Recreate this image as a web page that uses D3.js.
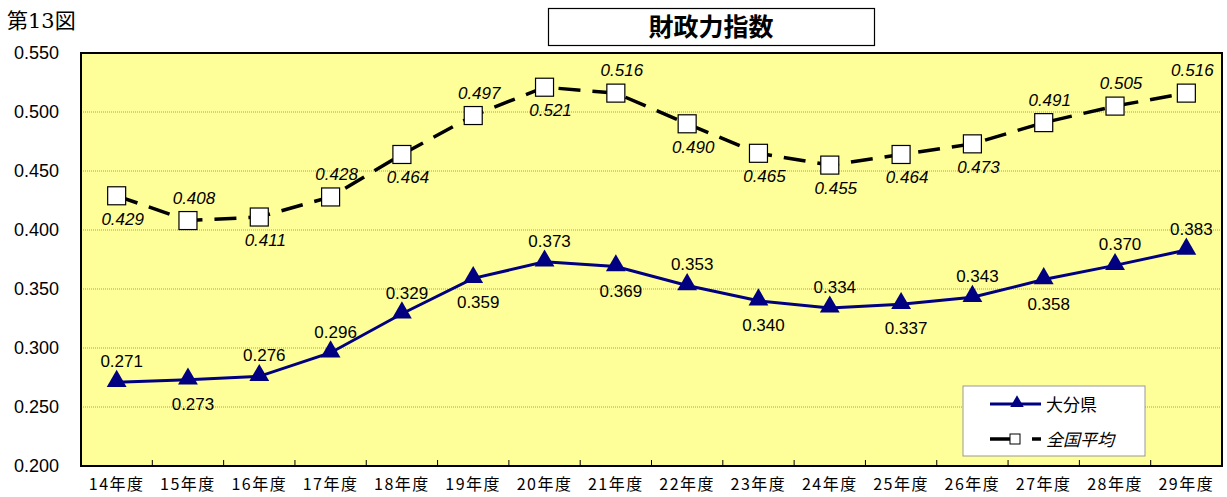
<!DOCTYPE html>
<html>
<head>
<meta charset="utf-8">
<script src="https://cdn.jsdelivr.net/npm/d3@7"></script>
<style>
  body { margin: 0; background: #fff; }
  text { font-family: "Liberation Sans", Arial, "Noto Sans CJK JP", sans-serif; }
</style>
</head>
<body>
<script>
let years = ['14年度', '15年度', '16年度', '17年度', '18年度', '19年度', '20年度', '21年度',
             '22年度', '23年度', '24年度', '25年度', '26年度', '27年度', '28年度', '29年度']
let oita = [0.271, 0.273, 0.276, 0.296, 0.329, 0.359, 0.373, 0.369,
            0.353, 0.340, 0.334, 0.337, 0.343, 0.358, 0.370, 0.383]
let national = [0.429, 0.408, 0.411, 0.428, 0.464, 0.497, 0.521, 0.516,
                0.490, 0.465, 0.455, 0.464, 0.473, 0.491, 0.505, 0.516]
// label side: 1 = above, -1 = below
let oitaSide = [1, -1, 1, 1, 1, -1, 1, -1, 1, -1, 1, -1, 1, -1, 1, 1]
let nationalSide = [-1, 1, -1, 1, -1, 1, -1, 1, -1, -1, -1, -1, -1, 1, 1, 1]
let yTicks = [0.200, 0.250, 0.300, 0.350, 0.400, 0.450, 0.500, 0.550]

let margin = { top: 53, bottom: 31, left: 81, right: 5 }
let width = 1227 - margin.left - margin.right
let height = 497 - margin.top - margin.bottom

let svg = d3.select('body')
    .append('svg')
    .attr('width', 1227)
    .attr('height', 497)

svg.append('text')
    .attr('x', 7)
    .attr('y', 28)
    .attr('font-size', 21)
    .style('font-family', '"DejaVu Serif", "Noto Sans CJK JP", serif')
    .text('第13図')

// title box
svg.append('rect')
    .attr('x', 548.5).attr('y', 8.5)
    .attr('width', 326).attr('height', 37)
    .attr('fill', 'white').attr('stroke', 'black').attr('stroke-width', 1.2)
svg.append('text')
    .attr('x', 711).attr('y', 36)
    .attr('text-anchor', 'middle')
    .attr('font-size', 25)
    .attr('font-weight', 'bold')
    .style('font-family', '"Noto Sans CJK JP", sans-serif')
    .text('財政力指数')

let g = svg.append('g')
    .attr('transform', 'translate(' + margin.left + ',' + margin.top + ')')

let x = d3.scaleBand().domain(years).range([0, width])
let y = d3.scaleLinear().domain([0.2, 0.55]).range([height, 0])
let cx = d => x(d) + x.bandwidth() / 2

g.append('rect')
    .attr('width', width).attr('height', height)
    .attr('fill', '#ffff99')

// gridlines
g.selectAll('.grid')
    .data(yTicks.slice(1, -1))
    .enter()
    .append('line')
    .attr('x1', 0).attr('x2', width)
    .attr('y1', d => y(d)).attr('y2', d => y(d))
    .attr('stroke', '#777').attr('stroke-width', 0.7)
    .attr('stroke-dasharray', '1,1')

g.append('rect')
    .attr('width', width).attr('height', height)
    .attr('fill', 'none').attr('stroke', 'black').attr('stroke-width', 2)

// y axis labels
g.selectAll('.ylab')
    .data(yTicks)
    .enter()
    .append('text')
    .attr('x', -22)
    .attr('y', d => y(d) + 6)
    .attr('text-anchor', 'end')
    .attr('font-size', 18)
    .text(d => d3.format('.3f')(d))

// x axis tick marks (inside) and labels
g.selectAll('.xtick')
    .data(years.slice(1))
    .enter()
    .append('line')
    .attr('x1', d => x(d)).attr('x2', d => x(d))
    .attr('y1', height).attr('y2', height - 6)
    .attr('stroke', 'black').attr('stroke-width', 1)

g.selectAll('.xlab')
    .data(years)
    .enter()
    .append('text')
    .attr('x', d => cx(d))
    .attr('y', height + 24)
    .attr('text-anchor', 'middle')
    .attr('font-size', 16)
    .attr('letter-spacing', 1.5)
    .style('font-family', '"Noto Sans CJK JP", sans-serif')
    .text(d => d)

let line = d3.line()
    .x((d, i) => cx(years[i]))
    .y(d => y(d))

// national series
g.append('path')
    .datum(national)
    .attr('d', line)
    .attr('fill', 'none')
    .attr('stroke', 'black')
    .attr('stroke-width', 3.5)
    .attr('stroke-dasharray', '22,12')

g.selectAll('.sq')
    .data(national)
    .enter()
    .append('rect')
    .attr('x', (d, i) => cx(years[i]) - 9)
    .attr('y', d => y(d) - 9)
    .attr('width', 18).attr('height', 18)
    .attr('fill', 'white').attr('stroke', 'black').attr('stroke-width', 1.2)

g.selectAll('.nlab')
    .data(national)
    .enter()
    .append('text')
    .attr('x', (d, i) => cx(years[i]) + 6)
    .attr('y', (d, i) => y(d) + (nationalSide[i] > 0 ? -17 : 29))
    .attr('text-anchor', 'middle')
    .attr('font-size', 17)
    .attr('font-style', 'italic')
    .text(d => d3.format('.3f')(d))

// oita series
g.append('path')
    .datum(oita)
    .attr('d', line)
    .attr('fill', 'none')
    .attr('stroke', '#000080')
    .attr('stroke-width', 3)

g.selectAll('.tri')
    .data(oita)
    .enter()
    .append('path')
    .attr('d', d3.symbol().type(d3.symbolTriangle).size(170))
    .attr('transform', (d, i) => 'translate(' + cx(years[i]) + ',' + (y(d) - 1) + ')')
    .attr('fill', '#000080')

g.selectAll('.olab')
    .data(oita)
    .enter()
    .append('text')
    .attr('x', (d, i) => cx(years[i]) + 5)
    .attr('y', (d, i) => y(d) + (oitaSide[i] > 0 ? -15 : 30))
    .attr('text-anchor', 'middle')
    .attr('font-size', 17)
    .text(d => d3.format('.3f')(d))

// legend
let lg = svg.append('g').attr('transform', 'translate(963,386)')
lg.append('rect')
    .attr('width', 182).attr('height', 70)
    .attr('fill', 'white').attr('stroke', '#999').attr('stroke-width', 1)
lg.append('line')
    .attr('x1', 27).attr('x2', 78).attr('y1', 18).attr('y2', 18)
    .attr('stroke', '#000080').attr('stroke-width', 3)
lg.append('path')
    .attr('d', d3.symbol().type(d3.symbolTriangle).size(80))
    .attr('transform', 'translate(54,17)')
    .attr('fill', '#000080')
lg.append('text')
    .attr('x', 83).attr('y', 25)
    .attr('font-size', 17)
    .style('font-family', '"Noto Sans CJK JP", sans-serif')
    .text('大分県')
lg.append('line')
    .attr('x1', 27).attr('x2', 47).attr('y1', 53).attr('y2', 53)
    .attr('stroke', 'black').attr('stroke-width', 3.5)
lg.append('rect')
    .attr('x', 47).attr('y', 48).attr('width', 10).attr('height', 10)
    .attr('fill', 'white').attr('stroke', 'black').attr('stroke-width', 1)
lg.append('line')
    .attr('x1', 69).attr('x2', 78).attr('y1', 53).attr('y2', 53)
    .attr('stroke', 'black').attr('stroke-width', 3.5)
lg.append('text')
    .attr('x', 83).attr('y', 60)
    .attr('font-size', 17)
    .attr('font-style', 'italic')
    .style('font-family', '"Noto Sans CJK JP", sans-serif')
    .text('全国平均')
</script>
</body>
</html>
